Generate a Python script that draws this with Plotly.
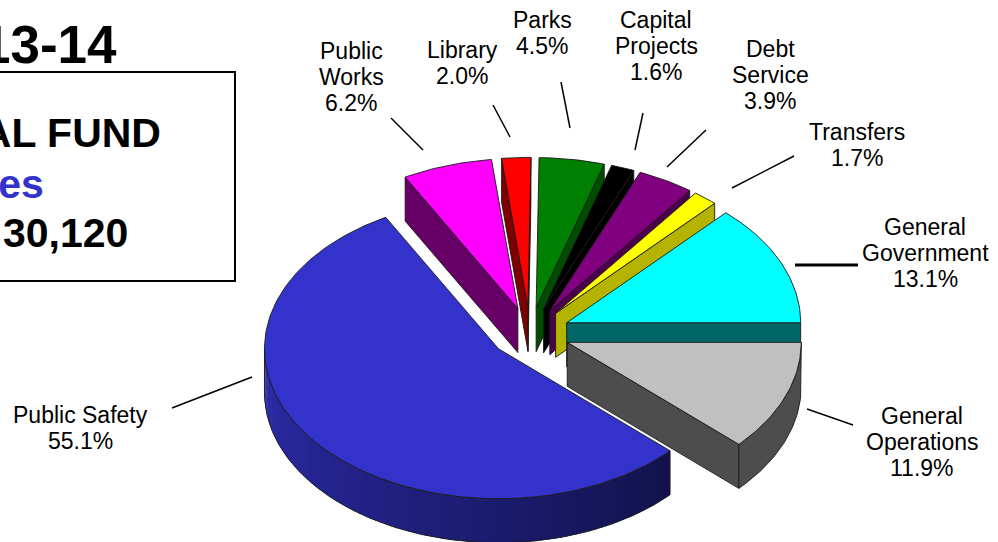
import math
import plotly.graph_objects as go

# ---------------- data ----------------
categories = ["General Government", "Transfers", "Debt Service", "Capital Projects",
              "Parks", "Library", "Public Works", "Public Safety", "General Operations"]
percent = [13.1, 1.7, 3.9, 1.6, 4.5, 2.0, 6.2, 55.1, 11.9]
label_lines = [["General", "Government"], ["Transfers"], ["Debt", "Service"], ["Capital", "Projects"],
               ["Parks"], ["Library"], ["Public", "Works"], ["Public Safety"], ["General", "Operations"]]

# ---------------- styles ----------------
top_colors = ["#00FFFF", "#FFFF00", "#800080", "#000000", "#008000",
              "#FF0000", "#FF00FF", "#3333CC", "#C0C0C0"]
side_colors = ["#006666", "#B3B300", "#4D004D", "#000000", "#004D00",
               "#800000", "#660066", None, "#4D4D4D"]
wall_gradient = ((0x2C, 0x2C, 0xAC), (0x12, 0x12, 0x4C))   # Public Safety rim, left -> right
OUTLINE = "#1a1a1a"
FONT = "Liberation Sans, Arial, sans-serif"
LABEL_SIZE = 23
LABEL_STEP = 26            # distance between label lines

# label placement (pixel layout): centre of each label block
label_xy = [(925, 253), (857, 145), (770, 75), (656, 46), (542, 33),
            (462, 63), (351, 77), (80, 428), (922, 442)]
leader_lines = [((795, 265), (858, 265)), ((732, 188), (794, 156)), ((667, 167), (706, 130)),
                ((635, 150), (643, 113)), ((570, 128), (561, 82)), ((510, 137), (493, 105)),
                ((423, 150), (391, 118)), ((252, 377), (172, 408)), ((807, 409), (853, 425))]

# ---------------- pie geometry (pixels) ----------------
W, H = 998, 542
CX, CY = 530, 333          # centre of the un-exploded pie top
RX, RY = 234, 150          # elliptical radii of the tilted top face
DEPTH = 44                 # thickness of the pie
EXPLODE = 40               # radial pull of every slice


def rim(cx, cy, deg, dy=0.0):
    t = math.radians(deg)
    return (cx + RX * math.cos(t), cy - RY * math.sin(t) + dy)


def arc(cx, cy, d0, d1, dy=0.0, step=1.0):
    n = max(2, int(abs(d1 - d0) / step) + 1)
    return [rim(cx, cy, d0 + (d1 - d0) * k / (n - 1), dy) for k in range(n)]


fig = go.Figure()


def poly(pts, fill, line_color=OUTLINE, lw=0.9):
    xs = [p[0] for p in pts] + [pts[0][0]]
    ys = [p[1] for p in pts] + [pts[0][1]]
    if lw > 0:
        fig.add_trace(go.Scatter(x=xs, y=ys, mode="lines", fill="toself", fillcolor=fill,
                                 line=dict(color=line_color, width=lw),
                                 hoverinfo="skip", showlegend=False))
    else:
        fig.add_trace(go.Scatter(x=xs, y=ys, mode="none", fill="toself", fillcolor=fill,
                                 hoverinfo="skip", showlegend=False))


def outline(pts):
    fig.add_trace(go.Scatter(x=[p[0] for p in pts], y=[p[1] for p in pts], mode="lines",
                             line=dict(color=OUTLINE, width=0.9),
                             hoverinfo="skip", showlegend=False))


total = sum(percent)
slices = []
acc = 0.0
for i, v in enumerate(percent):
    s = 360.0 * acc / total
    acc += v
    e = 360.0 * acc / total
    m = math.radians((s + e) / 2)
    cx = CX + EXPLODE * math.cos(m)
    cy = CY - EXPLODE * (RY / RX) * math.sin(m)
    slices.append(dict(i=i, s=s, e=e, cx=cx, cy=cy, depth_key=math.sin(m)))

# paint from the back of the pie to the front
for sl in sorted(slices, key=lambda d: -d["depth_key"]):
    i, s, e, cx, cy = sl["i"], sl["s"], sl["e"], sl["cx"], sl["cy"]
    side = side_colors[i]

    # radial side faces that face the viewer
    for ang, visible in ((s, math.cos(math.radians(s)) > 1e-6),
                         (e, math.cos(math.radians(e)) < -1e-6)):
        if visible:
            p = rim(cx, cy, ang)
            poly([(cx, cy), p, (p[0], p[1] + DEPTH), (cx, cy + DEPTH)], side)

    # outer curved wall on the front half
    w0, w1 = max(s, 180.0), min(e, 360.0)
    if w1 > w0:
        if side is None:
            n = 90
            for k in range(n):
                a0 = w0 + (w1 - w0) * k / n
                a1 = min(w1, w0 + (w1 - w0) * (k + 1) / n + 0.6)
                f = (k + 0.5) / n
                c = tuple(int(round(wall_gradient[0][j] + (wall_gradient[1][j] - wall_gradient[0][j]) * f))
                          for j in range(3))
                col = "rgb(%d,%d,%d)" % c
                top = arc(cx, cy, a0, a1, step=0.5)
                bot = arc(cx, cy, a1, a0, dy=DEPTH, step=0.5)
                poly(top + bot, col, lw=0)
            top = arc(cx, cy, w0, w1)
            bot = arc(cx, cy, w1, w0, dy=DEPTH)
            outline(top + bot + [top[0]])
        else:
            top = arc(cx, cy, w0, w1)
            bot = arc(cx, cy, w1, w0, dy=DEPTH)
            poly(top + bot, side)

    # top face
    poly([(cx, cy)] + arc(cx, cy, s, e) + [(cx, cy)], top_colors[i])

# ---------------- labels ----------------
annotations = []
for lines, v, (lx, ly) in zip(label_lines, percent, label_xy):
    rows = lines + ["%.1f%%" % v]
    n = len(rows)
    for k, row in enumerate(rows):
        annotations.append(dict(x=lx, y=ly + (k - (n - 1) / 2) * LABEL_STEP, xref="x", yref="y",
                                text=row, showarrow=False, xanchor="center", yanchor="middle",
                                font=dict(family=FONT, size=LABEL_SIZE, color="black")))

shapes = []
for k, (p0, p1) in enumerate(leader_lines):
    shapes.append(dict(type="line", xref="x", yref="y", x0=p0[0], y0=p0[1], x1=p1[0], y1=p1[1],
                       line=dict(color="black", width=3 if k == 0 else 1.5)))

# heading block on the left
shapes.append(dict(type="rect", xref="x", yref="y", x0=-10, y0=72, x1=235, y1=281,
                   line=dict(color="black", width=2), fillcolor="rgba(0,0,0,0)"))
heading = [("2013-14", 119, 44, 53, "black"),
           ("GENERAL FUND", 163, 133, 41, "black"),
           ("Expenditures", 46, 184, 41, "#3333CC"),
           ("30,120", 130, 233, 41, "black")]
for txt, rx, y, size, col in heading:
    annotations.append(dict(x=rx, y=y, xref="x", yref="y", text="<b>%s</b>" % txt,
                            showarrow=False, xanchor="right", yanchor="middle",
                            font=dict(family=FONT, size=size, color=col)))

fig.update_layout(
    width=W, height=H, margin=dict(l=0, r=0, t=0, b=0),
    paper_bgcolor="white", plot_bgcolor="white",
    xaxis=dict(range=[0, W], visible=False, fixedrange=True),
    yaxis=dict(range=[H, 0], visible=False, fixedrange=True),
    annotations=annotations, shapes=shapes, showlegend=False,
)

fig.write_html("out.html")
